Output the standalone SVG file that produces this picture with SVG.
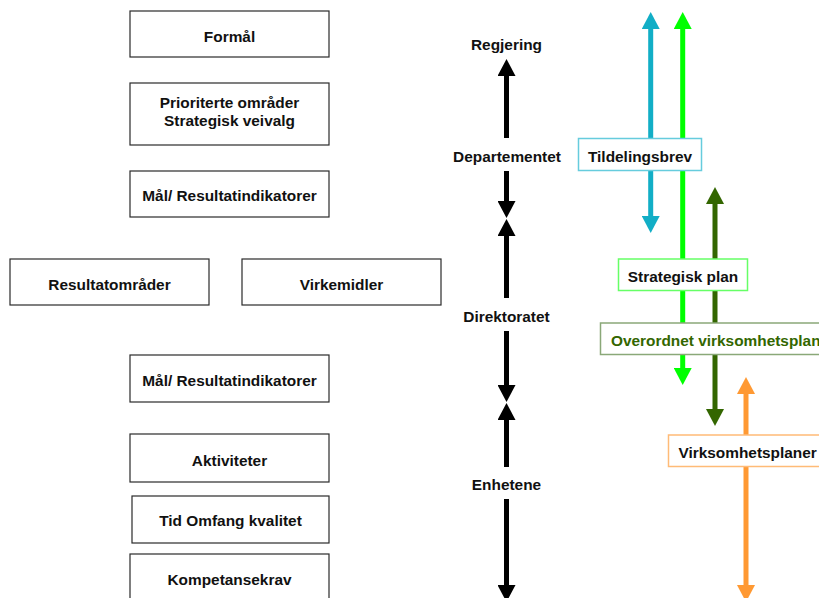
<svg xmlns="http://www.w3.org/2000/svg" width="819" height="598" viewBox="0 0 819 598">
  <style>
    .box { fill: #ffffff; stroke: #2a2a2a; stroke-width: 1.2; }
    .t { font-family: "Liberation Sans", Arial, sans-serif; font-weight: bold; font-size: 15.4px; fill: #111111; text-anchor: middle; }
    .lvl { font-family: "Liberation Sans", Arial, sans-serif; font-weight: bold; font-size: 15.4px; fill: #111111; text-anchor: middle; }
    .axis { stroke: #000000; stroke-width: 5; fill: none; }
    .flow { stroke-width: 5; fill: none; }
    .tag { fill: #ffffff; stroke-width: 1.5; }
  </style>
  <defs>
    <marker id="hBlack" viewBox="0 0 17 18" refX="0" refY="9" markerWidth="17" markerHeight="18" markerUnits="userSpaceOnUse" orient="auto-start-reverse">
      <path d="M0,0 L17,9 L0,18 Z" fill="#000000"/>
    </marker>
    <marker id="hCyan" viewBox="0 0 17 18" refX="0" refY="9" markerWidth="17" markerHeight="18" markerUnits="userSpaceOnUse" orient="auto-start-reverse">
      <path d="M0,0 L17,9 L0,18 Z" fill="#12AEC6"/>
    </marker>
    <marker id="hLime" viewBox="0 0 17 18" refX="0" refY="9" markerWidth="17" markerHeight="18" markerUnits="userSpaceOnUse" orient="auto-start-reverse">
      <path d="M0,0 L17,9 L0,18 Z" fill="#00FF00"/>
    </marker>
    <marker id="hDark" viewBox="0 0 17 18" refX="0" refY="9" markerWidth="17" markerHeight="18" markerUnits="userSpaceOnUse" orient="auto-start-reverse">
      <path d="M0,0 L17,9 L0,18 Z" fill="#336600"/>
    </marker>
    <marker id="hOrange" viewBox="0 0 17 18" refX="0" refY="9" markerWidth="17" markerHeight="18" markerUnits="userSpaceOnUse" orient="auto-start-reverse">
      <path d="M0,0 L17,9 L0,18 Z" fill="#FF9933"/>
    </marker>
  </defs>

  <rect width="819" height="598" fill="#ffffff"/>

  <!-- left column: planning content boxes -->
  <g id="formal">
    <rect class="box" x="130" y="11" width="199" height="46"/>
    <text class="t" x="229.5" y="41.5">Formål</text>
  </g>
  <g id="prioriterte">
    <rect class="box" x="130" y="83" width="199" height="62"/>
    <text class="t" x="229.5" y="107.5">Prioriterte områder</text>
    <text class="t" x="229.5" y="125.5">Strategisk veivalg</text>
  </g>
  <g id="maal-1">
    <rect class="box" x="130" y="171" width="199" height="46"/>
    <text class="t" x="229.5" y="200.5">Mål/ Resultatindikatorer</text>
  </g>
  <g id="resultatomrader">
    <rect class="box" x="10" y="259" width="199" height="46"/>
    <text class="t" x="109.5" y="289.5">Resultatområder</text>
  </g>
  <g id="virkemidler">
    <rect class="box" x="242" y="259" width="199" height="46"/>
    <text class="t" x="341.5" y="289.5">Virkemidler</text>
  </g>
  <g id="maal-2">
    <rect class="box" x="130" y="355" width="199" height="47"/>
    <text class="t" x="229.5" y="385.5">Mål/ Resultatindikatorer</text>
  </g>
  <g id="aktiviteter">
    <rect class="box" x="130" y="434" width="199" height="48"/>
    <text class="t" x="229.5" y="465.5">Aktiviteter</text>
  </g>
  <g id="tid">
    <rect class="box" x="132" y="496" width="197" height="47"/>
    <text class="t" x="230.5" y="526">Tid Omfang kvalitet</text>
  </g>
  <g id="kompetansekrav">
    <rect class="box" x="130" y="554" width="199" height="50"/>
    <text class="t" x="229.5" y="585">Kompetansekrav</text>
  </g>

  <!-- connectors: level axis and document flows -->
  <g id="connectors">
    <line class="axis" x1="506.5" y1="138" x2="506.5" y2="76" marker-end="url(#hBlack)"/>
    <line class="axis" x1="506.5" y1="171" x2="506.5" y2="201" marker-end="url(#hBlack)"/>
    <line class="axis" x1="506.5" y1="298" x2="506.5" y2="236" marker-end="url(#hBlack)"/>
    <line class="axis" x1="506.5" y1="331" x2="506.5" y2="385" marker-end="url(#hBlack)"/>
    <line class="axis" x1="506.5" y1="467" x2="506.5" y2="420" marker-end="url(#hBlack)"/>
    <line class="axis" x1="506.5" y1="499" x2="506.5" y2="585" marker-end="url(#hBlack)"/>

    <line class="flow" stroke="#12AEC6" x1="650.7" y1="29" x2="650.7" y2="216" marker-start="url(#hCyan)" marker-end="url(#hCyan)"/>
    <line class="flow" stroke="#00FF00" x1="682.7" y1="29" x2="682.7" y2="368" marker-start="url(#hLime)" marker-end="url(#hLime)"/>
    <line class="flow" stroke="#336600" x1="715" y1="204" x2="715" y2="409" marker-start="url(#hDark)" marker-end="url(#hDark)"/>
    <line class="flow" stroke="#FF9933" x1="746" y1="394" x2="746" y2="585" marker-start="url(#hOrange)" marker-end="url(#hOrange)"/>
  </g>

  <!-- level labels on the axis -->
  <g id="regjering">
    <text class="lvl" x="506.5" y="50">Regjering</text>
  </g>
  <g id="departementet">
    <text class="lvl" x="507" y="161.5">Departementet</text>
  </g>
  <g id="direktoratet">
    <text class="lvl" x="506.5" y="321.5">Direktoratet</text>
  </g>
  <g id="enhetene">
    <text class="lvl" x="506.5" y="490">Enhetene</text>
  </g>

  <!-- document labels on the flows -->
  <g id="tildelingsbrev">
    <rect class="tag" stroke="#66CCDD" x="578.5" y="138.5" width="123" height="32"/>
    <text class="t" x="640" y="161.5">Tildelingsbrev</text>
  </g>
  <g id="strategisk-plan">
    <rect class="tag" stroke="#66FF66" x="618.5" y="259" width="129" height="31.5"/>
    <text class="t" x="683" y="281.5">Strategisk plan</text>
  </g>
  <g id="overordnet">
    <rect class="tag" stroke="#8AA878" x="600.5" y="323" width="230" height="31.5"/>
    <text class="t" x="611" y="345.5" style="text-anchor:start;fill:#336600">Overordnet virksomhetsplan</text>
  </g>
  <g id="virksomhetsplaner">
    <rect class="tag" stroke="#FFBB77" x="668.5" y="435" width="160" height="31.5"/>
    <text class="t" x="678.5" y="457.5" style="text-anchor:start">Virksomhetsplaner</text>
  </g>
</svg>
